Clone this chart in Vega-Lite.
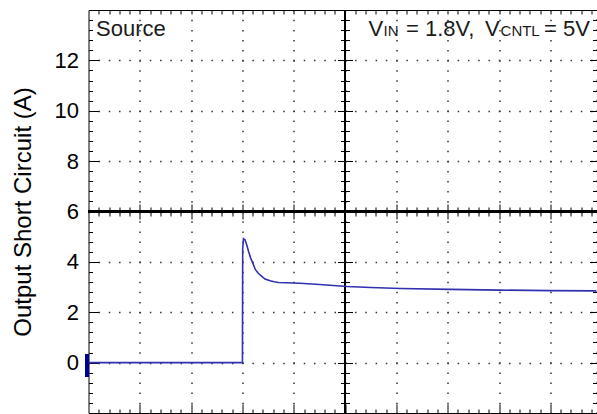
{
  "$schema": "https://vega.github.io/schema/vega-lite/v6.json",
  "autosize": "none",
  "width": 508,
  "height": 403,
  "padding": {"left": 88.5, "top": 10, "right": 0.5, "bottom": 1},
  "background": "white",
  "config": {
    "view": {"stroke": null},
    "axis": {"domainColor": "#000", "tickColor": "#000", "labelColor": "#000", "titleColor": "#000", "labelFont": "Liberation Sans", "titleFont": "Liberation Sans", "tickWidth": 1, "domainWidth": 1}
  },
  "data": {"values": [
    {"t": 0, "a": 0}, {"t": 3.0, "a": 0}, {"t": 3.005, "a": 4.5}, {"t": 3.02, "a": 4.92},
    {"t": 3.05, "a": 4.88}, {"t": 3.08, "a": 4.7}, {"t": 3.12, "a": 4.41}, {"t": 3.16, "a": 4.15},
    {"t": 3.19, "a": 4.01}, {"t": 3.25, "a": 3.7}, {"t": 3.3, "a": 3.57}, {"t": 3.35, "a": 3.47},
    {"t": 3.44, "a": 3.32}, {"t": 3.54, "a": 3.25}, {"t": 3.62, "a": 3.21}, {"t": 3.7, "a": 3.18},
    {"t": 3.85, "a": 3.17}, {"t": 4.12, "a": 3.15}, {"t": 4.5, "a": 3.1}, {"t": 4.77, "a": 3.06},
    {"t": 5.04, "a": 3.02}, {"t": 5.5, "a": 2.98}, {"t": 6.08, "a": 2.94}, {"t": 7.05, "a": 2.91},
    {"t": 8.02, "a": 2.88}, {"t": 9.0, "a": 2.86}, {"t": 9.9, "a": 2.85}
  ]},
  "resolve": {"axis": {"x": "independent", "y": "independent"}},
  "layer": [
    {
      "mark": {"type": "point", "opacity": 0},
      "encoding": {
        "x": {"field": "t", "type": "quantitative", "scale": {"domain": [0, 9.9], "nice": false, "zero": false},
          "axis": {"orient": "bottom", "values": [1,2,3,4,5,6,7,8,9], "tickSize": -9, "labels": false, "domain": false, "title": null,
            "grid": true, "gridColor": "#333", "gridWidth": 1.5, "gridDash": [1.5, 8.575], "gridDashOffset": 0.75}},
        "y": {"field": "a", "type": "quantitative", "scale": {"domain": [-2, 14], "nice": false, "zero": false},
          "axis": {"orient": "left", "values": [-1.6,-1.2,-0.8,-0.4,0.4,0.8,1.2,1.6,2.4,2.8,3.2,3.6,4.4,4.8,5.2,5.6,6.4,6.8,7.2,7.6,8.4,8.8,9.2,9.6,10.4,10.8,11.2,11.6,12.4,12.8,13.2,13.6], "tickSize": -4, "labels": false, "domain": false, "title": null, "grid": false}}
      }
    },
    {
      "mark": {"type": "point", "opacity": 0},
      "encoding": {
        "x": {"field": "t", "type": "quantitative",
          "axis": {"orient": "bottom", "values": [0.2,0.4,0.6,0.8,1.2,1.4,1.6,1.8,2.2,2.4,2.6,2.8,3.2,3.4,3.6,3.8,4.2,4.4,4.6,4.8,5.2,5.4,5.6,5.8,6.2,6.4,6.6,6.8,7.2,7.4,7.6,7.8,8.2,8.4,8.6,8.8,9.2,9.4,9.6,9.8], "tickSize": -4, "labels": false, "domain": true, "title": null, "grid": false}},
        "y": {"field": "a", "type": "quantitative",
          "axis": {"orient": "left", "values": [0,2,4,6,8,10,12], "tickSize": -10, "labelFontSize": 22, "labelPadding": 20, "domain": true,
            "title": "Output Short Circuit (A)", "titleFontSize": 24, "titleFontWeight": "normal", "titlePadding": 19,
            "grid": true, "gridColor": "#333", "gridWidth": 1.5, "gridDash": [1.5, 8.762], "gridDashOffset": 0.75}}
      }
    },
    {
      "mark": {"type": "point", "opacity": 0},
      "encoding": {
        "x": {"field": "t", "type": "quantitative",
          "axis": {"orient": "top", "values": [0.2,0.4,0.6,0.8,1,1.2,1.4,1.6,1.8,2,2.2,2.4,2.6,2.8,3,3.2,3.4,3.6,3.8,4,4.2,4.4,4.6,4.8,5.2,5.4,5.6,5.8,6,6.2,6.4,6.6,6.8,7,7.2,7.4,7.6,7.8,8,8.2,8.4,8.6,8.8,9,9.2,9.4,9.6,9.8], "tickSize": -4, "labels": false, "domain": true, "title": null, "grid": false}},
        "y": {"field": "a", "type": "quantitative",
          "axis": {"orient": "right", "values": [0,2,4,6,8,10,12], "tickSize": -7, "labels": false, "domain": true, "domainDash": [1.5, 8.575], "domainColor": "#333", "title": null, "grid": false}}
      }
    },
    {
      "mark": {"type": "point", "opacity": 0},
      "encoding": {
        "x": {"field": "t", "type": "quantitative",
          "axis": {"orient": "bottom", "offset": -197, "values": [0.2,0.4,0.6,0.8,1.2,1.4,1.6,1.8,2.2,2.4,2.6,2.8,3.2,3.4,3.6,3.8,4.2,4.4,4.6,4.8,5.2,5.4,5.6,5.8,6.2,6.4,6.6,6.8,7.2,7.4,7.6,7.8,8.2,8.4,8.6,8.8,9.2,9.4,9.6,9.8], "tickSize": -9, "labels": false, "domain": false, "title": null, "grid": false}},
        "y": {"field": "a", "type": "quantitative",
          "axis": {"orient": "right", "values": [-1.6,-1.2,-0.8,-0.4,0.4,0.8,1.2,1.6,2.4,2.8,3.2,3.6,4.4,4.8,5.2,5.6,6.4,6.8,7.2,7.6,8.4,8.8,9.2,9.6,10.4,10.8,11.2,11.6,12.4,12.8,13.2,13.6], "tickSize": -4, "labels": false, "domain": false, "title": null, "grid": false}}
      }
    },
    {
      "mark": {"type": "point", "opacity": 0},
      "encoding": {
        "x": {"field": "t", "type": "quantitative",
          "axis": {"orient": "bottom", "offset": -194, "values": [1,2,3,4,6,7,8,9], "tickSize": -15, "labels": false, "domain": false, "title": null, "grid": false}},
        "y": {"field": "a", "type": "quantitative",
          "axis": {"orient": "left", "offset": -252, "values": [-1.6,-1.2,-0.8,-0.4,0.4,0.8,1.2,1.6,2.4,2.8,3.2,3.6,4.4,4.8,5.2,5.6,6.4,6.8,7.2,7.6,8.4,8.8,9.2,9.6,10.4,10.8,11.2,11.6,12.4,12.8,13.2,13.6], "tickSize": -9, "labels": false, "domain": false, "title": null, "grid": false}}
      }
    },
    {
      "mark": {"type": "point", "opacity": 0},
      "encoding": {
        "x": {"field": "t", "type": "quantitative", "axis": null},
        "y": {"field": "a", "type": "quantitative",
          "axis": {"orient": "left", "offset": -249, "values": [0,2,4,8,10,12], "tickSize": -15, "labels": false, "domain": false, "title": null, "grid": false}}
      }
    },
    {
      "mark": {"type": "rule", "color": "#000", "strokeWidth": 1.5},
      "encoding": {"x": {"datum": 5, "type": "quantitative", "axis": null}}
    },
    {
      "mark": {"type": "rule", "color": "#000", "strokeWidth": 1.5},
      "encoding": {"y": {"datum": 6, "type": "quantitative", "axis": null}}
    },
    {
      "mark": {"type": "tick", "orient": "vertical", "color": "#00009a", "size": 22, "thickness": 3.5, "xOffset": -1.75},
      "encoding": {
        "x": {"datum": 0, "type": "quantitative", "axis": null},
        "y": {"datum": -0.11, "type": "quantitative", "axis": null}
      }
    },
    {
      "mark": {"type": "line", "color": "#3030b0", "strokeWidth": 1.6, "clip": true},
      "encoding": {
        "x": {"field": "t", "type": "quantitative", "axis": null},
        "y": {"field": "a", "type": "quantitative", "axis": null}
      }
    },
    {
      "data": {"values": [
        {"t": 0.146, "a": 12.95, "label": "Source"},
        {"t": 5.457, "a": 12.95, "label": "V"},
        {"t": 6.188, "a": 12.95, "label": "= 1.8V,"},
        {"t": 7.728, "a": 12.95, "label": "V"},
        {"t": 8.877, "a": 12.95, "label": "= 5V"}
      ]},
      "mark": {"type": "text", "align": "left", "baseline": "alphabetic", "font": "Liberation Sans", "fontSize": 22, "color": "#1a1a1a"},
      "encoding": {
        "x": {"field": "t", "type": "quantitative", "axis": null},
        "y": {"field": "a", "type": "quantitative", "axis": null},
        "text": {"field": "label"}
      }
    },
    {
      "data": {"values": [
        {"t": 5.749, "a": 12.95, "label": "IN"},
        {"t": 8.03, "a": 12.95, "label": "CNTL"}
      ]},
      "mark": {"type": "text", "align": "left", "baseline": "alphabetic", "font": "Liberation Sans", "fontSize": 15, "color": "#1a1a1a"},
      "encoding": {
        "x": {"field": "t", "type": "quantitative", "axis": null},
        "y": {"field": "a", "type": "quantitative", "axis": null},
        "text": {"field": "label"}
      }
    }
  ]
}
